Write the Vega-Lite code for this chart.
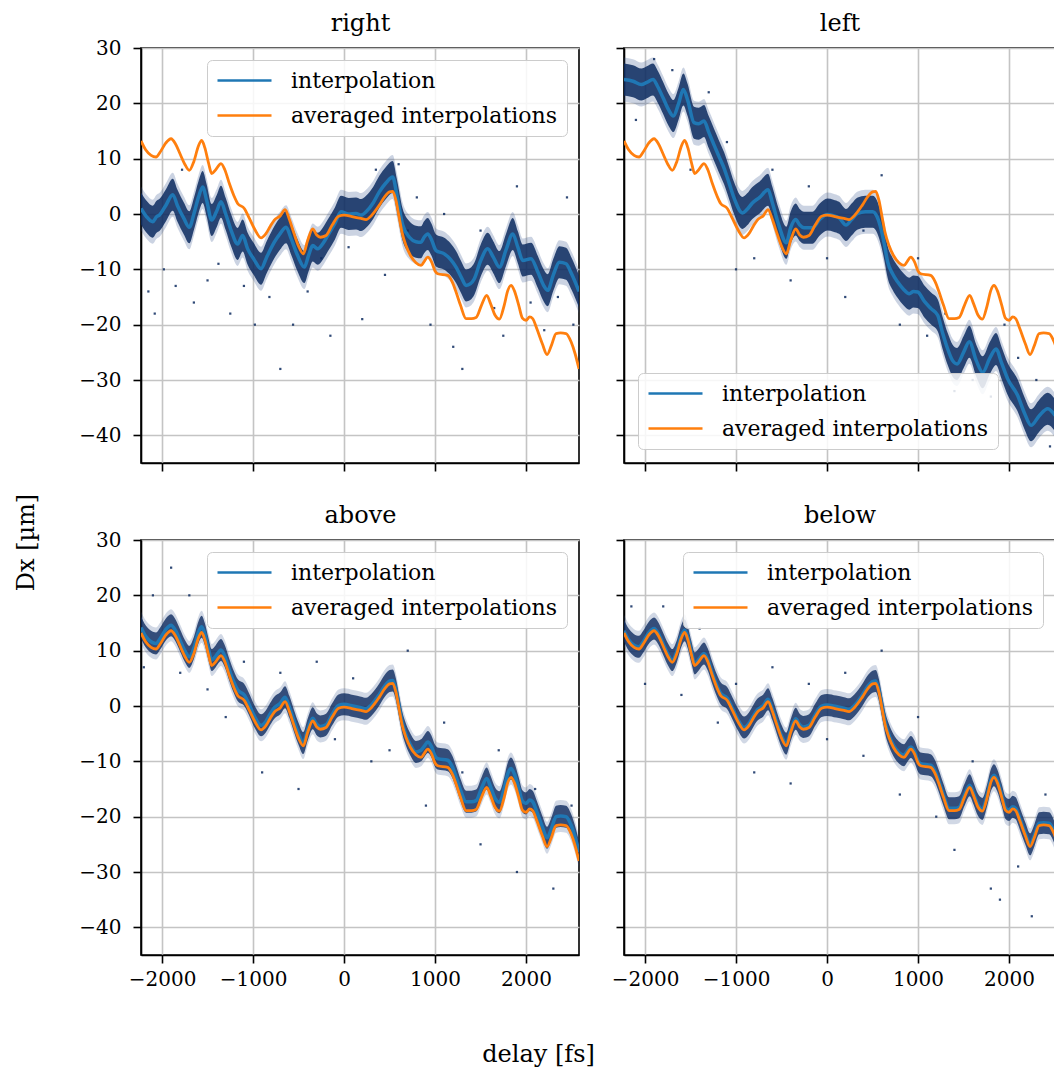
{
"$schema": "https://vega.github.io/schema/vega-lite/v6.json",
"padding": {"left": 13, "top": 10, "right": 0, "bottom": 0},
"background": "white",
"bounds": "flush",
"config": {
  "font": "DejaVu Serif",
  "view": {"stroke": "black", "strokeWidth": 1.6},
  "axis": {"domainColor": "black", "domainWidth": 1.6, "tickColor": "black", "tickWidth": 1.6, "tickSize": 8, "format": "d",
    "gridColor": "#c4c4c4", "gridWidth": 1.6, "labelFont": "DejaVu Serif", "labelFontSize": 20, "labelColor": "black",
    "titleFont": "DejaVu Serif", "titleFontSize": 24, "titleFontWeight": "normal", "titleColor": "black", "labelPadding": 6},
  "axisY": {"labelPadding": 12},
  "legend": {"labelFont": "DejaVu Serif", "labelFontSize": 22, "labelColor": "black", "symbolType": "M-2.7,0H2.7", "symbolSize": 400,
    "symbolStrokeWidth": 2.6, "symbolOffset": 17, "padding": 9, "fillColor": "rgba(255,255,255,0.85)", "strokeColor": "#cccccc", "cornerRadius": 5,
    "labelLimit": 500, "offset": 12, "rowPadding": 12, "labelOffset": 35}
},
"datasets": {
"avg": [
{"delay":-2231,"dx":13.2},{"delay":-2180,"dx":11.6},{"delay":-2120,"dx":10.6},{"delay":-2066,"dx":10.3},{"delay":-2020,"dx":11.2},{"delay":-1960,"dx":12.8},{"delay":-1901,"dx":13.6},{"delay":-1850,"dx":12.6},{"delay":-1800,"dx":10.8},{"delay":-1750,"dx":9.0},{"delay":-1700,"dx":7.9},{"delay":-1650,"dx":9.5},{"delay":-1600,"dx":12.3},{"delay":-1564,"dx":13.3},{"delay":-1530,"dx":12.0},{"delay":-1490,"dx":9.3},{"delay":-1454,"dx":7.3},{"delay":-1410,"dx":8.0},{"delay":-1352,"dx":9.1},{"delay":-1310,"dx":8.0},{"delay":-1260,"dx":5.5},{"delay":-1210,"dx":3.3},{"delay":-1169,"dx":1.9},{"delay":-1096,"dx":1.0},{"delay":-1040,"dx":-0.8},{"delay":-980,"dx":-2.8},{"delay":-912,"dx":-4.3},{"delay":-860,"dx":-3.6},{"delay":-810,"dx":-2.2},{"delay":-766,"dx":-1.1},{"delay":-700,"dx":-0.3},{"delay":-648,"dx":0.8},{"delay":-600,"dx":-1.0},{"delay":-550,"dx":-3.5},{"delay":-500,"dx":-5.8},{"delay":-447,"dx":-7.2},{"delay":-400,"dx":-4.8},{"delay":-344,"dx":-2.7},{"delay":-300,"dx":-3.8},{"delay":-260,"dx":-4.2},{"delay":-198,"dx":-3.9},{"delay":-130,"dx":-2.0},{"delay":-60,"dx":-0.4},{"delay":0,"dx":-0.2},{"delay":100,"dx":-0.5},{"delay":187,"dx":-0.8},{"delay":242,"dx":-1.0},{"delay":300,"dx":-0.3},{"delay":388,"dx":1.6},{"delay":450,"dx":3.2},{"delay":500,"dx":4.0},{"delay":535,"dx":4.1},{"delay":570,"dx":2.5},{"delay":608,"dx":-0.8},{"delay":640,"dx":-3.5},{"delay":681,"dx":-5.7},{"delay":730,"dx":-7.5},{"delay":790,"dx":-8.8},{"delay":846,"dx":-9.3},{"delay":880,"dx":-8.6},{"delay":920,"dx":-7.8},{"delay":960,"dx":-8.6},{"delay":1000,"dx":-10.3},{"delay":1029,"dx":-10.8},{"delay":1139,"dx":-11.1},{"delay":1190,"dx":-12.3},{"delay":1231,"dx":-14.1},{"delay":1280,"dx":-16.5},{"delay":1341,"dx":-18.9},{"delay":1400,"dx":-18.9},{"delay":1451,"dx":-18.7},{"delay":1510,"dx":-16.5},{"delay":1568,"dx":-14.7},{"delay":1610,"dx":-16.2},{"delay":1660,"dx":-18.3},{"delay":1707,"dx":-19.0},{"delay":1760,"dx":-16.5},{"delay":1800,"dx":-13.8},{"delay":1835,"dx":-12.9},{"delay":1870,"dx":-13.8},{"delay":1920,"dx":-16.5},{"delay":1960,"dx":-18.8},{"delay":2000,"dx":-19.2},{"delay":2040,"dx":-18.6},{"delay":2073,"dx":-18.9},{"delay":2120,"dx":-20.8},{"delay":2180,"dx":-23.5},{"delay":2231,"dx":-25.4},{"delay":2280,"dx":-23.7},{"delay":2330,"dx":-21.6},{"delay":2380,"dx":-21.5},{"delay":2440,"dx":-21.6},{"delay":2495,"dx":-23.1},{"delay":2540,"dx":-25.3},{"delay":2582,"dx":-28.0}
],
"interp": [
{"panel":"right","delay":-2231,"dx":1.0},{"panel":"right","delay":-2170,"dx":-0.5},{"panel":"right","delay":-2102,"dx":-1.4},{"panel":"right","delay":-2060,"dx":-0.5},{"panel":"right","delay":-2029,"dx":-0.2},{"panel":"right","delay":-1960,"dx":1.5},{"panel":"right","delay":-1882,"dx":3.5},{"panel":"right","delay":-1830,"dx":1.5},{"panel":"right","delay":-1760,"dx":-0.8},{"panel":"right","delay":-1700,"dx":-2.4},{"panel":"right","delay":-1650,"dx":0.0},{"panel":"right","delay":-1600,"dx":3.0},{"panel":"right","delay":-1553,"dx":4.9},{"panel":"right","delay":-1510,"dx":2.5},{"panel":"right","delay":-1454,"dx":-1.1},{"panel":"right","delay":-1400,"dx":0.5},{"panel":"right","delay":-1352,"dx":2.2},{"panel":"right","delay":-1300,"dx":0.0},{"panel":"right","delay":-1240,"dx":-3.0},{"panel":"right","delay":-1169,"dx":-5.4},{"panel":"right","delay":-1114,"dx":-3.9},{"panel":"right","delay":-1059,"dx":-6.3},{"panel":"right","delay":-990,"dx":-8.2},{"panel":"right","delay":-912,"dx":-9.9},{"panel":"right","delay":-850,"dx":-7.8},{"panel":"right","delay":-766,"dx":-5.1},{"panel":"right","delay":-700,"dx":-3.5},{"panel":"right","delay":-637,"dx":-2.4},{"panel":"right","delay":-580,"dx":-4.5},{"panel":"right","delay":-510,"dx":-7.5},{"panel":"right","delay":-436,"dx":-9.6},{"panel":"right","delay":-390,"dx":-7.5},{"panel":"right","delay":-344,"dx":-5.7},{"panel":"right","delay":-289,"dx":-6.3},{"panel":"right","delay":-230,"dx":-5.3},{"panel":"right","delay":-179,"dx":-3.9},{"panel":"right","delay":-100,"dx":-1.7},{"panel":"right","delay":-33,"dx":0.4},{"panel":"right","delay":50,"dx":0.0},{"panel":"right","delay":132,"dx":0.1},{"panel":"right","delay":187,"dx":-0.2},{"panel":"right","delay":242,"dx":0.4},{"panel":"right","delay":320,"dx":2.0},{"panel":"right","delay":388,"dx":4.0},{"panel":"right","delay":460,"dx":5.6},{"panel":"right","delay":535,"dx":6.7},{"panel":"right","delay":580,"dx":3.5},{"panel":"right","delay":645,"dx":-2.0},{"panel":"right","delay":718,"dx":-4.2},{"panel":"right","delay":790,"dx":-5.0},{"panel":"right","delay":846,"dx":-5.1},{"panel":"right","delay":880,"dx":-4.2},{"panel":"right","delay":920,"dx":-3.6},{"panel":"right","delay":960,"dx":-4.6},{"panel":"right","delay":1011,"dx":-6.6},{"panel":"right","delay":1102,"dx":-7.2},{"panel":"right","delay":1170,"dx":-8.2},{"panel":"right","delay":1231,"dx":-9.6},{"panel":"right","delay":1290,"dx":-11.5},{"panel":"right","delay":1341,"dx":-12.9},{"panel":"right","delay":1390,"dx":-12.6},{"panel":"right","delay":1432,"dx":-11.7},{"panel":"right","delay":1500,"dx":-8.5},{"panel":"right","delay":1579,"dx":-6.3},{"panel":"right","delay":1640,"dx":-7.8},{"panel":"right","delay":1707,"dx":-9.6},{"panel":"right","delay":1780,"dx":-6.5},{"panel":"right","delay":1854,"dx":-3.6},{"panel":"right","delay":1910,"dx":-6.0},{"panel":"right","delay":1964,"dx":-8.4},{"panel":"right","delay":2055,"dx":-8.1},{"panel":"right","delay":2130,"dx":-10.5},{"panel":"right","delay":2190,"dx":-12.8},{"panel":"right","delay":2238,"dx":-13.8},{"panel":"right","delay":2300,"dx":-11.0},{"panel":"right","delay":2366,"dx":-8.7},{"panel":"right","delay":2440,"dx":-9.0},{"panel":"right","delay":2500,"dx":-10.8},{"panel":"right","delay":2582,"dx":-14.0},
{"panel":"left","delay":-2231,"dx":24.3},{"panel":"left","delay":-2132,"dx":24.0},{"panel":"left","delay":-2040,"dx":23.4},{"panel":"left","delay":-1980,"dx":23.8},{"panel":"left","delay":-1912,"dx":24.3},{"panel":"left","delay":-1860,"dx":23.0},{"panel":"left","delay":-1802,"dx":21.0},{"panel":"left","delay":-1740,"dx":18.8},{"panel":"left","delay":-1689,"dx":17.7},{"panel":"left","delay":-1630,"dx":20.0},{"panel":"left","delay":-1579,"dx":22.5},{"panel":"left","delay":-1530,"dx":20.5},{"panel":"left","delay":-1462,"dx":16.5},{"panel":"left","delay":-1410,"dx":16.3},{"panel":"left","delay":-1352,"dx":16.8},{"panel":"left","delay":-1300,"dx":14.8},{"panel":"left","delay":-1242,"dx":12.5},{"panel":"left","delay":-1190,"dx":10.5},{"panel":"left","delay":-1132,"dx":8.3},{"panel":"left","delay":-1080,"dx":5.8},{"panel":"left","delay":-1022,"dx":2.9},{"panel":"left","delay":-930,"dx":0.2},{"panel":"left","delay":-880,"dx":0.8},{"panel":"left","delay":-820,"dx":2.0},{"panel":"left","delay":-740,"dx":3.0},{"panel":"left","delay":-648,"dx":4.4},{"panel":"left","delay":-600,"dx":2.0},{"panel":"left","delay":-530,"dx":-2.0},{"panel":"left","delay":-447,"dx":-5.2},{"panel":"left","delay":-400,"dx":-2.5},{"panel":"left","delay":-344,"dx":-1.0},{"panel":"left","delay":-300,"dx":-2.0},{"panel":"left","delay":-253,"dx":-2.5},{"panel":"left","delay":-161,"dx":-2.5},{"panel":"left","delay":-80,"dx":-1.0},{"panel":"left","delay":3,"dx":-0.1},{"panel":"left","delay":70,"dx":-0.3},{"panel":"left","delay":132,"dx":-0.7},{"panel":"left","delay":209,"dx":-2.0},{"panel":"left","delay":270,"dx":-1.0},{"panel":"left","delay":337,"dx":0.1},{"panel":"left","delay":420,"dx":0.4},{"panel":"left","delay":502,"dx":0.4},{"panel":"left","delay":550,"dx":-0.5},{"panel":"left","delay":593,"dx":-2.7},{"panel":"left","delay":630,"dx":-5.5},{"panel":"left","delay":667,"dx":-8.7},{"panel":"left","delay":720,"dx":-10.8},{"panel":"left","delay":777,"dx":-12.3},{"panel":"left","delay":840,"dx":-13.6},{"panel":"left","delay":904,"dx":-14.4},{"panel":"left","delay":950,"dx":-14.0},{"panel":"left","delay":996,"dx":-14.1},{"panel":"left","delay":1070,"dx":-15.8},{"panel":"left","delay":1143,"dx":-17.1},{"panel":"left","delay":1216,"dx":-18.3},{"panel":"left","delay":1270,"dx":-21.5},{"panel":"left","delay":1326,"dx":-24.4},{"panel":"left","delay":1380,"dx":-26.5},{"panel":"left","delay":1429,"dx":-27.1},{"panel":"left","delay":1500,"dx":-25.0},{"panel":"left","delay":1564,"dx":-23.1},{"panel":"left","delay":1640,"dx":-26.5},{"panel":"left","delay":1711,"dx":-28.6},{"panel":"left","delay":1790,"dx":-26.0},{"panel":"left","delay":1857,"dx":-24.4},{"panel":"left","delay":1920,"dx":-27.0},{"panel":"left","delay":1985,"dx":-29.8},{"panel":"left","delay":2095,"dx":-32.8},{"panel":"left","delay":2170,"dx":-36.0},{"panel":"left","delay":2242,"dx":-38.2},{"panel":"left","delay":2330,"dx":-36.5},{"panel":"left","delay":2425,"dx":-35.2},{"panel":"left","delay":2505,"dx":-36.4},
{"panel":"above","delay":-2231,"dx":14.2},{"panel":"above","delay":-2180,"dx":12.6},{"panel":"above","delay":-2120,"dx":11.6},{"panel":"above","delay":-2066,"dx":11.3},{"panel":"above","delay":-2020,"dx":12.2},{"panel":"above","delay":-1960,"dx":13.8},{"panel":"above","delay":-1901,"dx":14.6},{"panel":"above","delay":-1850,"dx":13.6},{"panel":"above","delay":-1800,"dx":11.8},{"panel":"above","delay":-1750,"dx":10.0},{"panel":"above","delay":-1700,"dx":8.9},{"panel":"above","delay":-1650,"dx":10.5},{"panel":"above","delay":-1600,"dx":13.3},{"panel":"above","delay":-1564,"dx":14.3},{"panel":"above","delay":-1530,"dx":13.0},{"panel":"above","delay":-1490,"dx":10.3},{"panel":"above","delay":-1454,"dx":8.3},{"panel":"above","delay":-1410,"dx":9.0},{"panel":"above","delay":-1352,"dx":10.1},{"panel":"above","delay":-1310,"dx":9.0},{"panel":"above","delay":-1260,"dx":6.5},{"panel":"above","delay":-1210,"dx":4.3},{"panel":"above","delay":-1169,"dx":2.9},{"panel":"above","delay":-1096,"dx":2.0},{"panel":"above","delay":-1040,"dx":0.2},{"panel":"above","delay":-980,"dx":-2.0},{"panel":"above","delay":-912,"dx":-3.5},{"panel":"above","delay":-860,"dx":-2.8},{"panel":"above","delay":-810,"dx":-1.4},{"panel":"above","delay":-766,"dx":-0.3},{"panel":"above","delay":-700,"dx":0.5},{"panel":"above","delay":-648,"dx":1.6},{"panel":"above","delay":-600,"dx":-0.2},{"panel":"above","delay":-550,"dx":-2.7},{"panel":"above","delay":-500,"dx":-5.0},{"panel":"above","delay":-447,"dx":-6.7},{"panel":"above","delay":-400,"dx":-4.3},{"panel":"above","delay":-344,"dx":-2.2},{"panel":"above","delay":-300,"dx":-3.3},{"panel":"above","delay":-260,"dx":-3.7},{"panel":"above","delay":-198,"dx":-3.4},{"panel":"above","delay":-130,"dx":-1.5},{"panel":"above","delay":-60,"dx":0.1},{"panel":"above","delay":0,"dx":0.3},{"panel":"above","delay":100,"dx":0.0},{"panel":"above","delay":187,"dx":-0.3},{"panel":"above","delay":242,"dx":-0.5},{"panel":"above","delay":300,"dx":0.2},{"panel":"above","delay":388,"dx":2.1},{"panel":"above","delay":450,"dx":3.7},{"panel":"above","delay":500,"dx":4.5},{"panel":"above","delay":535,"dx":4.6},{"panel":"above","delay":570,"dx":3.0},{"panel":"above","delay":608,"dx":-0.3},{"panel":"above","delay":640,"dx":-3.0},{"panel":"above","delay":681,"dx":-5.2},{"panel":"above","delay":730,"dx":-7.0},{"panel":"above","delay":790,"dx":-8.3},{"panel":"above","delay":846,"dx":-8.0},{"panel":"above","delay":880,"dx":-7.3},{"panel":"above","delay":920,"dx":-6.5},{"panel":"above","delay":960,"dx":-7.3},{"panel":"above","delay":1000,"dx":-9.0},{"panel":"above","delay":1029,"dx":-9.5},{"panel":"above","delay":1139,"dx":-9.8},{"panel":"above","delay":1190,"dx":-11.0},{"panel":"above","delay":1231,"dx":-12.8},{"panel":"above","delay":1280,"dx":-15.2},{"panel":"above","delay":1341,"dx":-17.3},{"panel":"above","delay":1400,"dx":-17.3},{"panel":"above","delay":1451,"dx":-17.1},{"panel":"above","delay":1510,"dx":-14.9},{"panel":"above","delay":1568,"dx":-13.1},{"panel":"above","delay":1610,"dx":-14.6},{"panel":"above","delay":1660,"dx":-16.7},{"panel":"above","delay":1707,"dx":-17.4},{"panel":"above","delay":1760,"dx":-14.9},{"panel":"above","delay":1800,"dx":-12.2},{"panel":"above","delay":1835,"dx":-11.3},{"panel":"above","delay":1870,"dx":-12.2},{"panel":"above","delay":1920,"dx":-14.9},{"panel":"above","delay":1960,"dx":-17.2},{"panel":"above","delay":2000,"dx":-17.6},{"panel":"above","delay":2040,"dx":-17.0},{"panel":"above","delay":2073,"dx":-17.3},{"panel":"above","delay":2120,"dx":-19.2},{"panel":"above","delay":2180,"dx":-21.9},{"panel":"above","delay":2231,"dx":-23.8},{"panel":"above","delay":2280,"dx":-22.1},{"panel":"above","delay":2330,"dx":-20.0},{"panel":"above","delay":2380,"dx":-19.9},{"panel":"above","delay":2440,"dx":-20.0},{"panel":"above","delay":2495,"dx":-21.5},{"panel":"above","delay":2540,"dx":-23.7},{"panel":"above","delay":2582,"dx":-26.4},
{"panel":"below","delay":-2231,"dx":13.6},{"panel":"below","delay":-2180,"dx":12.0},{"panel":"below","delay":-2120,"dx":11.0},{"panel":"below","delay":-2066,"dx":10.7},{"panel":"below","delay":-2020,"dx":11.6},{"panel":"below","delay":-1960,"dx":13.2},{"panel":"below","delay":-1901,"dx":14.0},{"panel":"below","delay":-1850,"dx":13.0},{"panel":"below","delay":-1800,"dx":11.2},{"panel":"below","delay":-1750,"dx":9.4},{"panel":"below","delay":-1700,"dx":8.3},{"panel":"below","delay":-1650,"dx":9.9},{"panel":"below","delay":-1600,"dx":12.7},{"panel":"below","delay":-1564,"dx":13.7},{"panel":"below","delay":-1530,"dx":12.4},{"panel":"below","delay":-1490,"dx":9.7},{"panel":"below","delay":-1454,"dx":7.7},{"panel":"below","delay":-1410,"dx":8.4},{"panel":"below","delay":-1352,"dx":9.5},{"panel":"below","delay":-1310,"dx":8.4},{"panel":"below","delay":-1260,"dx":5.9},{"panel":"below","delay":-1210,"dx":3.7},{"panel":"below","delay":-1169,"dx":2.3},{"panel":"below","delay":-1096,"dx":1.4},{"panel":"below","delay":-1040,"dx":-0.4},{"panel":"below","delay":-980,"dx":-2.4},{"panel":"below","delay":-912,"dx":-3.9},{"panel":"below","delay":-860,"dx":-3.2},{"panel":"below","delay":-810,"dx":-1.8},{"panel":"below","delay":-766,"dx":-0.7},{"panel":"below","delay":-700,"dx":0.1},{"panel":"below","delay":-648,"dx":1.2},{"panel":"below","delay":-600,"dx":-0.6},{"panel":"below","delay":-550,"dx":-3.1},{"panel":"below","delay":-500,"dx":-5.4},{"panel":"below","delay":-447,"dx":-6.8},{"panel":"below","delay":-400,"dx":-4.4},{"panel":"below","delay":-344,"dx":-2.3},{"panel":"below","delay":-300,"dx":-3.4},{"panel":"below","delay":-260,"dx":-3.8},{"panel":"below","delay":-198,"dx":-3.5},{"panel":"below","delay":-130,"dx":-1.6},{"panel":"below","delay":-60,"dx":0.0},{"panel":"below","delay":0,"dx":0.2},{"panel":"below","delay":100,"dx":-0.1},{"panel":"below","delay":187,"dx":-0.4},{"panel":"below","delay":242,"dx":-0.6},{"panel":"below","delay":300,"dx":0.1},{"panel":"below","delay":388,"dx":2.0},{"panel":"below","delay":450,"dx":3.6},{"panel":"below","delay":500,"dx":4.4},{"panel":"below","delay":535,"dx":4.5},{"panel":"below","delay":570,"dx":2.9},{"panel":"below","delay":608,"dx":-0.4},{"panel":"below","delay":640,"dx":-3.1},{"panel":"below","delay":681,"dx":-5.3},{"panel":"below","delay":730,"dx":-7.1},{"panel":"below","delay":790,"dx":-8.4},{"panel":"below","delay":846,"dx":-8.9},{"panel":"below","delay":880,"dx":-8.2},{"panel":"below","delay":920,"dx":-7.4},{"panel":"below","delay":960,"dx":-8.2},{"panel":"below","delay":1000,"dx":-9.9},{"panel":"below","delay":1029,"dx":-10.4},{"panel":"below","delay":1139,"dx":-10.7},{"panel":"below","delay":1190,"dx":-11.9},{"panel":"below","delay":1231,"dx":-13.7},{"panel":"below","delay":1280,"dx":-16.1},{"panel":"below","delay":1341,"dx":-18.5},{"panel":"below","delay":1400,"dx":-18.5},{"panel":"below","delay":1451,"dx":-18.3},{"panel":"below","delay":1510,"dx":-16.1},{"panel":"below","delay":1568,"dx":-14.3},{"panel":"below","delay":1610,"dx":-15.8},{"panel":"below","delay":1660,"dx":-17.9},{"panel":"below","delay":1707,"dx":-18.6},{"panel":"below","delay":1760,"dx":-16.1},{"panel":"below","delay":1800,"dx":-13.4},{"panel":"below","delay":1835,"dx":-12.5},{"panel":"below","delay":1870,"dx":-13.4},{"panel":"below","delay":1920,"dx":-16.1},{"panel":"below","delay":1960,"dx":-18.4},{"panel":"below","delay":2000,"dx":-18.8},{"panel":"below","delay":2040,"dx":-18.2},{"panel":"below","delay":2073,"dx":-18.5},{"panel":"below","delay":2120,"dx":-20.4},{"panel":"below","delay":2180,"dx":-23.1},{"panel":"below","delay":2231,"dx":-25.0},{"panel":"below","delay":2280,"dx":-23.3},{"panel":"below","delay":2330,"dx":-21.2},{"panel":"below","delay":2380,"dx":-21.1},{"panel":"below","delay":2440,"dx":-21.2},{"panel":"below","delay":2495,"dx":-22.7},{"panel":"below","delay":2540,"dx":-24.9},{"panel":"below","delay":2582,"dx":-27.6}
],
"dots": [
{"panel":"right","delay":-2150,"dx":-14},{"panel":"right","delay":-2080,"dx":-18},{"panel":"right","delay":-1980,"dx":-10},{"panel":"right","delay":-1850,"dx":-13},{"panel":"right","delay":-1780,"dx":8},{"panel":"right","delay":-1650,"dx":-16},{"panel":"right","delay":-1500,"dx":-12},{"panel":"right","delay":-1380,"dx":-9},{"panel":"right","delay":-1250,"dx":-18},{"panel":"right","delay":-1100,"dx":-13},{"panel":"right","delay":-980,"dx":-20},{"panel":"right","delay":-820,"dx":-15},{"panel":"right","delay":-700,"dx":-28},{"panel":"right","delay":-560,"dx":-20},{"panel":"right","delay":-400,"dx":-14},{"panel":"right","delay":-250,"dx":-8},{"panel":"right","delay":-150,"dx":-22},{"panel":"right","delay":50,"dx":-6},{"panel":"right","delay":200,"dx":-19},{"panel":"right","delay":350,"dx":8},{"panel":"right","delay":450,"dx":-11},{"panel":"right","delay":600,"dx":9},{"panel":"right","delay":700,"dx":-3},{"panel":"right","delay":800,"dx":3},{"panel":"right","delay":950,"dx":-20},{"panel":"right","delay":1100,"dx":0},{"panel":"right","delay":1200,"dx":-24},{"panel":"right","delay":1300,"dx":-28},{"panel":"right","delay":1500,"dx":-3},{"panel":"right","delay":1650,"dx":-17},{"panel":"right","delay":1750,"dx":-22},{"panel":"right","delay":1900,"dx":5},{"panel":"right","delay":2050,"dx":-16},{"panel":"right","delay":2200,"dx":-21},{"panel":"right","delay":2350,"dx":-15},{"panel":"right","delay":2450,"dx":3},{"panel":"right","delay":2520,"dx":-20},
{"panel":"left","delay":-2100,"dx":17},{"panel":"left","delay":-1900,"dx":28},{"panel":"left","delay":-1700,"dx":26},{"panel":"left","delay":-1500,"dx":8},{"panel":"left","delay":-1300,"dx":22},{"panel":"left","delay":-1100,"dx":13},{"panel":"left","delay":-1000,"dx":-10},{"panel":"left","delay":-800,"dx":-8},{"panel":"left","delay":-600,"dx":8},{"panel":"left","delay":-400,"dx":-12},{"panel":"left","delay":-200,"dx":5},{"panel":"left","delay":0,"dx":-8},{"panel":"left","delay":200,"dx":-15},{"panel":"left","delay":400,"dx":-3},{"panel":"left","delay":600,"dx":7},{"panel":"left","delay":800,"dx":-20},{"panel":"left","delay":1000,"dx":-8},{"panel":"left","delay":1100,"dx":-22},{"panel":"left","delay":1300,"dx":-18},{"panel":"left","delay":1400,"dx":-32},{"panel":"left","delay":1600,"dx":-30},{"panel":"left","delay":1800,"dx":-33},{"panel":"left","delay":1950,"dx":-20},{"panel":"left","delay":2100,"dx":-26},{"panel":"left","delay":2300,"dx":-30},{"panel":"left","delay":2450,"dx":-42},
{"panel":"above","delay":-2200,"dx":7},{"panel":"above","delay":-2100,"dx":20},{"panel":"above","delay":-1900,"dx":25},{"panel":"above","delay":-1800,"dx":6},{"panel":"above","delay":-1700,"dx":20},{"panel":"above","delay":-1500,"dx":3},{"panel":"above","delay":-1300,"dx":-2},{"panel":"above","delay":-1100,"dx":8},{"panel":"above","delay":-900,"dx":-12},{"panel":"above","delay":-700,"dx":6},{"panel":"above","delay":-500,"dx":-15},{"panel":"above","delay":-300,"dx":8},{"panel":"above","delay":-100,"dx":-6},{"panel":"above","delay":100,"dx":5},{"panel":"above","delay":300,"dx":-10},{"panel":"above","delay":500,"dx":-8},{"panel":"above","delay":700,"dx":10},{"panel":"above","delay":900,"dx":-18},{"panel":"above","delay":1100,"dx":-3},{"panel":"above","delay":1300,"dx":-12},{"panel":"above","delay":1500,"dx":-25},{"panel":"above","delay":1700,"dx":-8},{"panel":"above","delay":1900,"dx":-30},{"panel":"above","delay":2100,"dx":-15},{"panel":"above","delay":2300,"dx":-33},{"panel":"above","delay":2500,"dx":-18},
{"panel":"below","delay":-2150,"dx":18},{"panel":"below","delay":-2000,"dx":4},{"panel":"below","delay":-1800,"dx":18},{"panel":"below","delay":-1600,"dx":2},{"panel":"below","delay":-1400,"dx":14},{"panel":"below","delay":-1200,"dx":-3},{"panel":"below","delay":-1000,"dx":4},{"panel":"below","delay":-800,"dx":-12},{"panel":"below","delay":-600,"dx":7},{"panel":"below","delay":-400,"dx":-14},{"panel":"below","delay":-200,"dx":4},{"panel":"below","delay":0,"dx":-6},{"panel":"below","delay":200,"dx":6},{"panel":"below","delay":400,"dx":-9},{"panel":"below","delay":600,"dx":10},{"panel":"below","delay":800,"dx":-16},{"panel":"below","delay":1000,"dx":-2},{"panel":"below","delay":1200,"dx":-20},{"panel":"below","delay":1400,"dx":-26},{"panel":"below","delay":1600,"dx":-10},{"panel":"below","delay":1800,"dx":-33},{"panel":"below","delay":1900,"dx":-35},{"panel":"below","delay":2100,"dx":-29},{"panel":"below","delay":2250,"dx":-38},{"panel":"below","delay":2400,"dx":-16}
]
},
"columns": 2,
"spacing": {"row": 77, "column": 45},
"resolve": {"scale": {"x": "independent", "y": "independent"}, "axis": {"x": "independent", "y": "independent"}, "legend": {"color": "independent"}},
"concat": [
{
  "width": 438, "height": 415,
  "resolve": {"axis": {"x": "independent"}},
  "layer": [
  {
  "encoding": {
    "x": {"field": "delay", "type": "quantitative", "scale": {"domain": [-2231, 2582], "nice": false, "zero": false},
      "axis": {"values": [-2000, -1000, 0, 1000, 2000], "labels": false, "title": null}},
    "y": {"field": "dx", "type": "quantitative", "scale": {"domain": [-45, 30], "nice": false, "zero": false},
      "axis": {"values": [-40, -30, -20, -10, 0, 10, 20, 30], "title": null}}
  },
  "layer": [
    {"data": {"name": "interp"}, "transform": [{"filter": "datum.panel == 'right'"}], "mark": {"type": "area", "color": "#2f4f8a", "opacity": 0.25, "yOffset": -22, "y2Offset": 22, "interpolate": "monotone", "clip": true}, "encoding": {"y2": {"field": "dx"}}},
    {"data": {"name": "interp"}, "transform": [{"filter": "datum.panel == 'right'"}], "mark": {"type": "area", "color": "#0c2a5f", "opacity": 0.85, "yOffset": -16, "y2Offset": 16, "interpolate": "monotone", "clip": true}, "encoding": {"y2": {"field": "dx"}}},
    {"data": {"name": "dots"}, "transform": [{"filter": "datum.panel == 'right'"}], "mark": {"type": "square", "size": 5, "color": "#0c2a5f", "opacity": 0.85, "clip": true}},
    {"data": {"name": "interp"}, "transform": [{"filter": "datum.panel == 'right'"}], "mark": {"type": "line", "strokeWidth": 3.5, "interpolate": "monotone", "clip": true},
      "encoding": {"color": {"datum": "interpolation", "type": "nominal", "scale": {"domain": ["interpolation", "averaged interpolations"], "range": ["#1f77b4", "#ff7f0e"]}, "legend": {"title": null, "orient": "top-right"}}}},
    {"data": {"name": "avg"}, "mark": {"type": "line", "strokeWidth": 2.8, "interpolate": "monotone", "clip": true},
      "encoding": {"color": {"datum": "averaged interpolations", "type": "nominal"}}}
  ]
  },
  {"data": {"name": "avg"}, "transform": [{"filter": "datum.delay == 0"}], "mark": {"type": "point", "opacity": 0},
   "encoding": {"x": {"field": "delay", "type": "quantitative", "scale": {"domain": [-2231, 2582], "nice": false, "zero": false},
     "axis": {"orient": "top", "title": "right", "labels": false, "ticks": false, "domain": false, "grid": false, "titleY": -18, "titleBaseline": "alphabetic"}}}}
  ]
},
{
  "width": 431, "height": 415,
  "resolve": {"axis": {"x": "independent"}},
  "layer": [
  {
  "encoding": {
    "x": {"field": "delay", "type": "quantitative", "scale": {"domain": [-2231, 2505], "nice": false, "zero": false},
      "axis": {"values": [-2000, -1000, 0, 1000, 2000], "labels": false, "title": null}},
    "y": {"field": "dx", "type": "quantitative", "scale": {"domain": [-45, 30], "nice": false, "zero": false},
      "axis": {"values": [-40, -30, -20, -10, 0, 10, 20, 30], "labels": false, "title": null}}
  },
  "layer": [
    {"data": {"name": "interp"}, "transform": [{"filter": "datum.panel == 'left'"}], "mark": {"type": "area", "color": "#2f4f8a", "opacity": 0.25, "yOffset": -22, "y2Offset": 22, "interpolate": "monotone", "clip": true}, "encoding": {"y2": {"field": "dx"}}},
    {"data": {"name": "interp"}, "transform": [{"filter": "datum.panel == 'left'"}], "mark": {"type": "area", "color": "#0c2a5f", "opacity": 0.85, "yOffset": -16, "y2Offset": 16, "interpolate": "monotone", "clip": true}, "encoding": {"y2": {"field": "dx"}}},
    {"data": {"name": "dots"}, "transform": [{"filter": "datum.panel == 'left'"}], "mark": {"type": "square", "size": 5, "color": "#0c2a5f", "opacity": 0.85, "clip": true}},
    {"data": {"name": "interp"}, "transform": [{"filter": "datum.panel == 'left'"}], "mark": {"type": "line", "strokeWidth": 3.5, "interpolate": "monotone", "clip": true},
      "encoding": {"color": {"datum": "interpolation", "type": "nominal", "scale": {"domain": ["interpolation", "averaged interpolations"], "range": ["#1f77b4", "#ff7f0e"]}, "legend": {"title": null, "orient": "bottom-left", "offset": 14}}}},
    {"data": {"name": "avg"}, "mark": {"type": "line", "strokeWidth": 2.8, "interpolate": "monotone", "clip": true},
      "encoding": {"color": {"datum": "averaged interpolations", "type": "nominal"}}}
  ]
  },
  {"data": {"name": "avg"}, "transform": [{"filter": "datum.delay == 0"}], "mark": {"type": "point", "opacity": 0},
   "encoding": {"x": {"field": "delay", "type": "quantitative", "scale": {"domain": [-2231, 2505], "nice": false, "zero": false},
     "axis": {"orient": "top", "title": "left", "labels": false, "ticks": false, "domain": false, "grid": false, "titleY": -18, "titleBaseline": "alphabetic"}}}}
  ]
},
{
  "width": 438, "height": 415,
  "resolve": {"axis": {"x": "independent"}},
  "layer": [
  {
  "encoding": {
    "x": {"field": "delay", "type": "quantitative", "scale": {"domain": [-2231, 2582], "nice": false, "zero": false},
      "axis": {"values": [-2000, -1000, 0, 1000, 2000], "title": "delay [fs]", "titleX": 397, "titleY": 99, "titleBaseline": "middle", "titleAlign": "center"}},
    "y": {"field": "dx", "type": "quantitative", "scale": {"domain": [-45, 30], "nice": false, "zero": false},
      "axis": {"values": [-40, -30, -20, -10, 0, 10, 20, 30], "title": "Dx [µm]", "titleX": -115, "titleY": 2, "titleBaseline": "middle", "titleAlign": "center", "titleAngle": -90}}
  },
  "layer": [
    {"data": {"name": "interp"}, "transform": [{"filter": "datum.panel == 'above'"}], "mark": {"type": "area", "color": "#2f4f8a", "opacity": 0.22, "yOffset": -16, "y2Offset": 16, "interpolate": "monotone", "clip": true}, "encoding": {"y2": {"field": "dx"}}},
    {"data": {"name": "interp"}, "transform": [{"filter": "datum.panel == 'above'"}], "mark": {"type": "area", "color": "#0c2a5f", "opacity": 0.8, "yOffset": -11, "y2Offset": 11, "interpolate": "monotone", "clip": true}, "encoding": {"y2": {"field": "dx"}}},
    {"data": {"name": "dots"}, "transform": [{"filter": "datum.panel == 'above'"}], "mark": {"type": "square", "size": 5, "color": "#0c2a5f", "opacity": 0.85, "clip": true}},
    {"data": {"name": "interp"}, "transform": [{"filter": "datum.panel == 'above'"}], "mark": {"type": "line", "strokeWidth": 3.5, "interpolate": "monotone", "clip": true},
      "encoding": {"color": {"datum": "interpolation", "type": "nominal", "scale": {"domain": ["interpolation", "averaged interpolations"], "range": ["#1f77b4", "#ff7f0e"]}, "legend": {"title": null, "orient": "top-right"}}}},
    {"data": {"name": "avg"}, "mark": {"type": "line", "strokeWidth": 2.8, "interpolate": "monotone", "clip": true},
      "encoding": {"color": {"datum": "averaged interpolations", "type": "nominal"}}}
  ]
  },
  {"data": {"name": "avg"}, "transform": [{"filter": "datum.delay == 0"}], "mark": {"type": "point", "opacity": 0},
   "encoding": {"x": {"field": "delay", "type": "quantitative", "scale": {"domain": [-2231, 2582], "nice": false, "zero": false},
     "axis": {"orient": "top", "title": "above", "labels": false, "ticks": false, "domain": false, "grid": false, "titleY": -18, "titleBaseline": "alphabetic"}}}}
  ]
},
{
  "width": 431, "height": 415,
  "resolve": {"axis": {"x": "independent"}},
  "layer": [
  {
  "encoding": {
    "x": {"field": "delay", "type": "quantitative", "scale": {"domain": [-2231, 2505], "nice": false, "zero": false},
      "axis": {"values": [-2000, -1000, 0, 1000, 2000], "title": null}},
    "y": {"field": "dx", "type": "quantitative", "scale": {"domain": [-45, 30], "nice": false, "zero": false},
      "axis": {"values": [-40, -30, -20, -10, 0, 10, 20, 30], "labels": false, "title": null}}
  },
  "layer": [
    {"data": {"name": "interp"}, "transform": [{"filter": "datum.panel == 'below'"}], "mark": {"type": "area", "color": "#2f4f8a", "opacity": 0.22, "yOffset": -16, "y2Offset": 16, "interpolate": "monotone", "clip": true}, "encoding": {"y2": {"field": "dx"}}},
    {"data": {"name": "interp"}, "transform": [{"filter": "datum.panel == 'below'"}], "mark": {"type": "area", "color": "#0c2a5f", "opacity": 0.8, "yOffset": -11, "y2Offset": 11, "interpolate": "monotone", "clip": true}, "encoding": {"y2": {"field": "dx"}}},
    {"data": {"name": "dots"}, "transform": [{"filter": "datum.panel == 'below'"}], "mark": {"type": "square", "size": 5, "color": "#0c2a5f", "opacity": 0.85, "clip": true}},
    {"data": {"name": "interp"}, "transform": [{"filter": "datum.panel == 'below'"}], "mark": {"type": "line", "strokeWidth": 3.5, "interpolate": "monotone", "clip": true},
      "encoding": {"color": {"datum": "interpolation", "type": "nominal", "scale": {"domain": ["interpolation", "averaged interpolations"], "range": ["#1f77b4", "#ff7f0e"]}, "legend": {"title": null, "orient": "top-right"}}}},
    {"data": {"name": "avg"}, "mark": {"type": "line", "strokeWidth": 2.8, "interpolate": "monotone", "clip": true},
      "encoding": {"color": {"datum": "averaged interpolations", "type": "nominal"}}}
  ]
  },
  {"data": {"name": "avg"}, "transform": [{"filter": "datum.delay == 0"}], "mark": {"type": "point", "opacity": 0},
   "encoding": {"x": {"field": "delay", "type": "quantitative", "scale": {"domain": [-2231, 2505], "nice": false, "zero": false},
     "axis": {"orient": "top", "title": "below", "labels": false, "ticks": false, "domain": false, "grid": false, "titleY": -18, "titleBaseline": "alphabetic"}}}}
  ]
}
]
}
